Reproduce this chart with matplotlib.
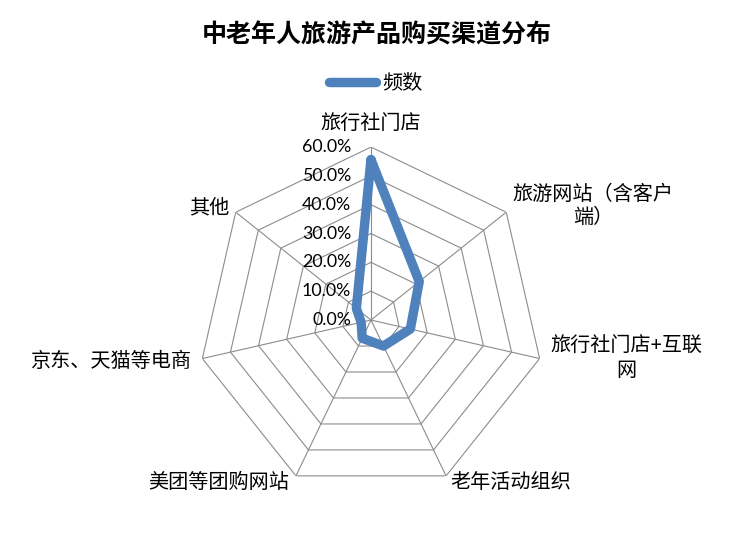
import numpy as np
import matplotlib.pyplot as plt

plt.rcParams['font.family'] = ['Noto Sans CJK SC', 'DejaVu Sans']

# data
categories = ["旅行社门店", "旅游网站（含客户\n端）", "旅行社门店+互联\n网", "老年活动组织",
              "美团等团购网站", "京东、天猫等电商", "其他"]
values = [0.556, 0.214, 0.140, 0.100, 0.070, 0.035, 0.065]
ticks = [0.0, 0.1, 0.2, 0.3, 0.4, 0.5, 0.6]
tick_labels = ["0.0%", "10.0%", "20.0%", "30.0%", "40.0%", "50.0%", "60.0%"]

# label offsets from the outer vertex, in pixels (dx right, dy up)
label_offsets = [(0, 23), (87, 6), (87, 0), (65, -7), (-77, -7), (-91, -3), (-27, 4)]

blue = "#4F81BD"
grid_c = "#8c8c8c"

n = len(categories)
angles = np.linspace(0, 2 * np.pi, n, endpoint=False)
closed = np.append(angles, angles[0])

fig = plt.figure(figsize=(7.5, 5.43), dpi=100)
ax = fig.add_axes([0.264, 0.092, 0.4613, 0.6372], projection="polar")
ax.set_theta_zero_location("N")
ax.set_theta_direction(-1)
ax.set_ylim(0, 0.6)
ax.axis("off")

# polygon grid rings and spokes
for t in ticks[1:]:
    ax.plot(closed, [t] * (n + 1), color=grid_c, lw=0.8, zorder=1)
for a in angles:
    ax.plot([a, a], [0, 0.6], color=grid_c, lw=0.8, zorder=1)

# the series
vals = values + values[:1]
line, = ax.plot(closed, vals, color=blue, lw=6.8, solid_joinstyle="round",
                solid_capstyle="round", zorder=3, label="频数")

# radial tick labels, left of the top spoke
for t, lab in zip(ticks, tick_labels):
    ax.annotate(lab, (0, t), xytext=(-20, 0), textcoords="offset pixels",
                ha="right", va="center", fontsize=12.8, family=["Lato", "DejaVu Sans"],
                annotation_clip=False, zorder=4)

# category labels
for a, cat, (dx, dy) in zip(angles, categories, label_offsets):
    ax.annotate(cat, (a, 0.6), xytext=(dx, dy), textcoords="offset pixels",
                ha="center", va="center", multialignment="center",
                fontsize=14.5, linespacing=1.15, annotation_clip=False)

fig.text(0.502, 0.9355, "中老年人旅游产品购买渠道分布", ha="center", va="center",
         fontsize=18, fontweight="bold")

fig.legend(handles=[line], loc="center", bbox_to_anchor=(0.501, 0.847),
           frameon=False, fontsize=14.5, handlelength=2.3, handletextpad=0.3)

fig.savefig("out.png", dpi=100)
